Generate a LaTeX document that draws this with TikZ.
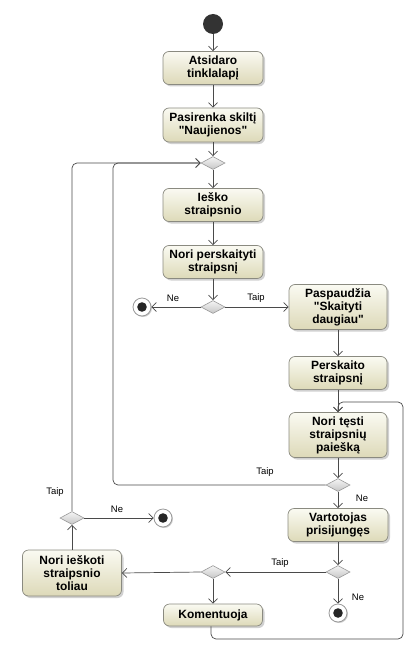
\documentclass[tikz,border=0pt]{standalone}
\usepackage{fontspec}
\setmainfont{Liberation Sans}
\usetikzlibrary{shapes.geometric,arrows.meta,shadows}
\definecolor{boxtop}{HTML}{FAFAF2}
\definecolor{boxbot}{HTML}{DDD9B8}
\definecolor{boxline}{HTML}{8A8A80}
\definecolor{lin}{HTML}{4A4A4A}
\tikzset{
  act/.style={draw=boxline, rounded corners=6bp, top color=boxtop, bottom color=boxbot,
    minimum width=100bp, align=center, inner sep=1bp, line width=0.7bp,
    font=\bfseries\fontsize{12}{13}\selectfont,
    drop shadow={shadow xshift=2bp, shadow yshift=-2bp, fill=black, opacity=0.18}},
  dec/.style={diamond, draw=gray!80, top color=gray!8, bottom color=gray!45,
    minimum width=24bp, minimum height=13bp, inner sep=0pt, line width=0.6bp},
  initn/.style={circle, fill=black!80, minimum size=20bp, inner sep=0pt},
  finaln/.style={circle, draw=gray!80, fill=white, minimum size=18bp, inner sep=0pt, line width=0.8bp,
    drop shadow={shadow xshift=1bp, shadow yshift=-1bp, fill=black, opacity=0.2},
    path picture={\fill[black!85] (path picture bounding box.center) circle (4.8bp);}},
  flow/.style={draw=lin, line width=0.7bp, -{Straight Barb[length=4.5bp,width=9bp]}},
  lbl/.style={font=\fontsize{9.5}{11}\selectfont, inner sep=0pt}
}
\begin{document}
\begin{tikzpicture}[x=1bp,y=-1bp]
\useasboundingbox (0,0) rectangle (419,650);
\node[initn] (init) at (213,24) {};
\node[act, minimum height=33bp] (atsi) at (213,68) {Atsidaro\\tinklalapį};
\node[act, minimum height=34bp] (pasi) at (213,125) {Pasirenka skiltį\\\textquotedbl Naujienos\textquotedbl};
\node[dec] (m1) at (213,163) {};
\node[act, minimum height=33bp] (iesko) at (213,205) {Ieško\\straipsnio};
\node[act, minimum height=33bp] (nori) at (213,262) {Nori perskaityti\\straipsnį};
\node[dec] (d1) at (213,307) {};
\node[finaln] (f1) at (142,307) {};
\node[act, minimum height=45bp, minimum width=98bp] (pasp) at (338,307) {Paspaudžia\\\textquotedbl Skaityti\\daugiau\textquotedbl};
\node[act, minimum height=33bp, minimum width=98bp] (persk) at (338,373) {Perskaito\\straipsnį};
\node[act, minimum height=45bp, minimum width=98bp] (test) at (338,435) {Nori tęsti\\straipsnių\\paiešką};
\node[dec] (d2) at (338,485) {};
\node[act, minimum height=33bp] (vart) at (338,525) {Vartotojas\\prisijungęs};
\node[dec] (d3) at (338,572) {};
\node[finaln] (f3) at (338,613) {};
\node[dec] (m2) at (213,572) {};
\node[act, minimum height=46bp, minimum width=99bp] (ieskt) at (72,573) {Nori ieškoti\\straipsnio\\toliau};
\node[act, minimum height=22bp, minimum width=99bp] (kom) at (213,615) {Komentuoja};
\node[dec] (d4) at (72,518) {};
\node[finaln] (f2) at (163,518) {};
\coordinate (c1) at (113,485);
\coordinate (c2) at (113,163);
\coordinate (c3) at (72,163);
\coordinate (k1) at (211,639);
\coordinate (k2) at (403,639);
\coordinate (k3) at (403,402);
\coordinate (k4) at (338,402);

\draw[flow] (init) -- (atsi);
\draw[flow] (atsi) -- (pasi);
\draw[flow] (pasi) -- (m1);
\draw[flow] (m1) -- (iesko);
\draw[flow] (iesko) -- (nori);
\draw[flow] (nori) -- (d1);
\draw[flow] (d1) -- (f1);
\draw[flow] (d1) -- (pasp);
\draw[flow] (pasp) -- (persk);
\draw[flow] (persk) -- (test);
\draw[flow] (test) -- (d2);
\draw[flow, rounded corners=5bp] (d2.west) -- (c1) -- (c2) -- (m1.west);
\draw[flow] (d2) -- (vart);
\draw[flow] (vart) -- (d3);
\draw[flow] (d3.west) -- (m2.east);
\draw[flow] (d3) -- (f3);
\draw[flow] (m2.west) -- (ieskt.east);
\draw[flow] (m2) -- (kom);
\draw[flow, rounded corners=5bp] (kom.south -| k1) -- (k1) -- (k2) -- (k3) -- (k4) -- (test.north);
\draw[flow] (ieskt) -- (d4);
\draw[flow] (d4) -- (f2);
\draw[flow, rounded corners=5bp] (d4.north) -- (c3) -- (m1.west);

\node[lbl] at (173,298) {Ne};
\node[lbl] at (256,298) {Taip};
\node[lbl] at (265,472) {Taip};
\node[lbl] at (362,498) {Ne};
\node[lbl] at (280,563) {Taip};
\node[lbl] at (358,597) {Ne};
\node[lbl] at (55,492) {Taip};
\node[lbl] at (117,509) {Ne};
\end{tikzpicture}
\end{document}
